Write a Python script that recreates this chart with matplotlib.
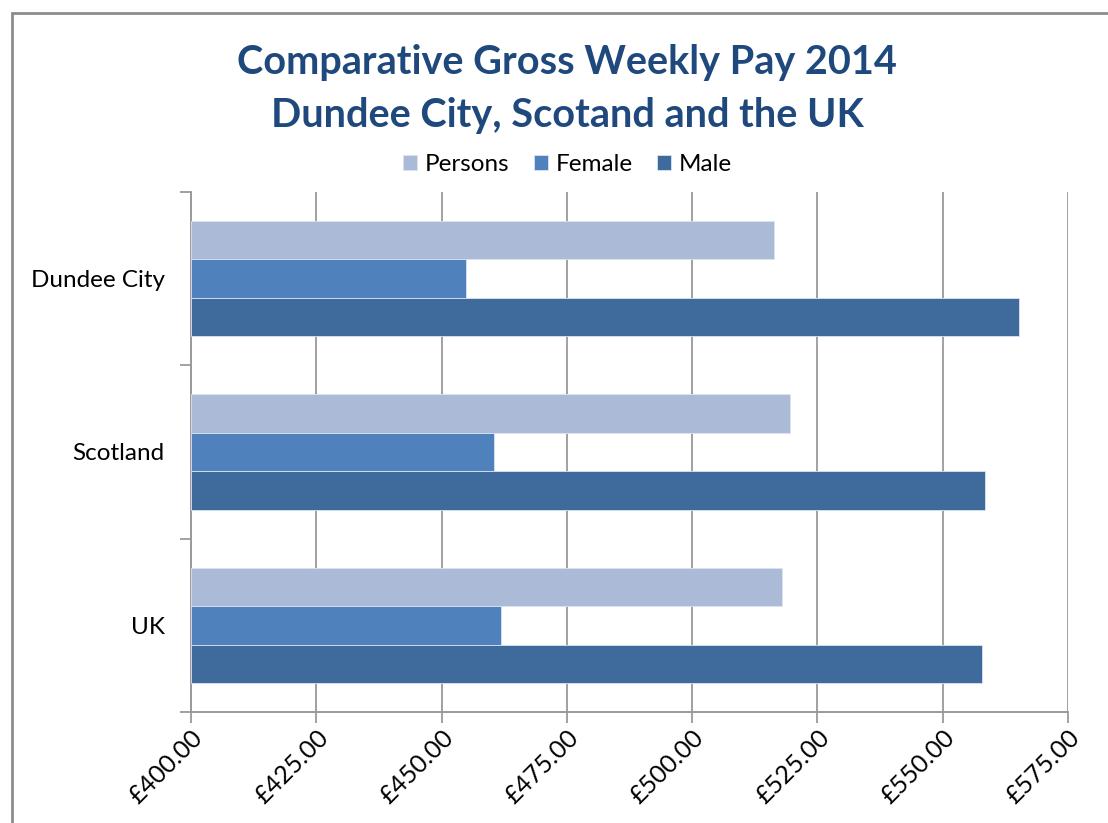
import numpy as np
import matplotlib.pyplot as plt
from matplotlib.patches import Rectangle
from matplotlib.ticker import FuncFormatter

# Data
areas = ["Dundee City", "Scotland", "UK"]
persons = [516.3, 519.5, 517.9]
female = [454.9, 460.5, 461.9]
male = [565.2, 558.4, 557.9]
series_names = ["Persons", "Female", "Male"]
colors = ["#AABAD7", "#4F81BD", "#3F6B9C"]

plt.rcParams['font.family'] = ['Lato', 'DejaVu Sans']

fig = plt.figure(figsize=(11.08, 8.23), dpi=100)
ax = fig.add_axes([0.1724, 0.1349, 0.9639 - 0.1724, 0.7667 - 0.1349])

y = np.arange(len(areas))
h = 0.222
base = 400
for k, (vals, name, col) in enumerate(zip([persons, female, male], series_names, colors)):
    vals = np.array(vals)
    ax.barh(y + (k - 1) * h, vals - base, left=base, height=h, color=col,
            edgecolor="#DCE4F0", linewidth=0.6, label=name, zorder=3)

ax.set_xlim(400, 575)
ax.set_ylim(2.5, -0.5)
ax.set_xticks(np.arange(400, 576, 25))
ax.xaxis.set_major_formatter(FuncFormatter(lambda v, p: f"£{v:.2f}"))
ax.set_yticks(y)
ax.set_yticklabels(areas)
ax.set_yticks([-0.5, 0.5, 1.5, 2.5], minor=True)
ax.tick_params(axis='y', which='major', length=0, pad=19, labelsize=17.5)
ax.tick_params(axis='y', which='minor', length=8, color="#9A9A9A", width=1.3)
ax.tick_params(axis='x', length=8, color="#9A9A9A", width=1.3, labelsize=18, pad=2)
for lab in ax.get_xticklabels():
    lab.set_rotation(45)
    lab.set_ha('right')
    lab.set_va('top')
    lab.set_rotation_mode('anchor')

ax.grid(axis='x', color="#A0A0A0", linewidth=1.4, zorder=0)
for s in ['top', 'right']:
    ax.spines[s].set_visible(False)
for s in ['left', 'bottom']:
    ax.spines[s].set_color("#9A9A9A")
    ax.spines[s].set_linewidth(1.4)

fig.text(0.512, 0.892, "Comparative Gross Weekly Pay 2014\nDundee City, Scotand and the UK",
         ha='center', va='center', fontsize=28.5, fontweight='bold', color="#1F497D",
         linespacing=1.55)

fig.legend(loc='center', bbox_to_anchor=(0.512, 0.800), ncol=3, frameon=False,
           fontsize=17.5, handlelength=0.6, handleheight=0.6, handletextpad=0.3,
           columnspacing=1.0)

fig.patches.append(Rectangle((12 / 1108, -0.1), 1.2, 1 - 13 / 823 + 0.1,
                             transform=fig.transFigure, fill=False,
                             edgecolor="#8C8C8C", linewidth=2))

fig.savefig("out.png", dpi=100)
